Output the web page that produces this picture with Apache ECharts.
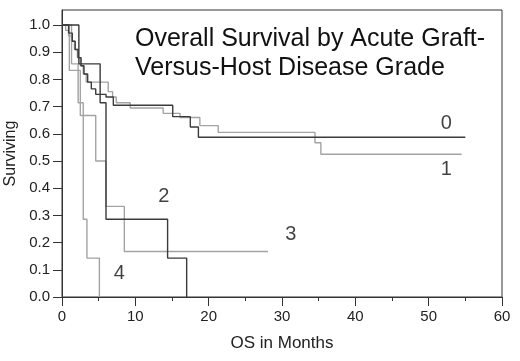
<!DOCTYPE html>
<html>
<head>
<meta charset="utf-8">
<script src="https://cdn.jsdelivr.net/npm/echarts@6/dist/echarts.min.js"></script>
<style>
  html, body { margin: 0; padding: 0; background: #fff; }
  #chart { width: 520px; height: 361px; }
</style>
</head>
<body>
<div id="chart"></div>
<script>
// Kaplan-Meier curves by aGVHD grade: [months, surviving]
const grade0 = [[0, 1], [0.9, 0.97], [1.4, 0.94], [1.8, 0.91], [2.2, 0.88], [2.6, 0.85], [3.0, 0.82],
  [3.5, 0.79], [4.0, 0.765], [4.6, 0.745], [6.0, 0.735], [7.0, 0.705], [15.1, 0.663],
  [17.5, 0.625], [18.6, 0.587], [55.0, 0.587]];
const grade1 = [[0, 1], [0.5, 0.98], [0.9, 0.96], [1.3, 0.94], [1.7, 0.91], [2.1, 0.88], [2.5, 0.85],
  [2.9, 0.82], [3.3, 0.79], [6.3, 0.755], [6.9, 0.735], [7.4, 0.714], [9.3, 0.695],
  [13.8, 0.675], [16.1, 0.66], [18.8, 0.63], [21.3, 0.605], [34.5, 0.567], [35.3, 0.525],
  [54.5, 0.525]];
const grade2 = [[0, 1], [2.3, 0.857], [5.2, 0.714], [6.0, 0.286], [14.4, 0.143], [17.0, 0]];
const grade3 = [[0, 1], [1.0, 0.833], [2.5, 0.667], [4.6, 0.5], [6.0, 0.333], [8.5, 0.167], [28.1, 0.167]];
const grade4 = [[0, 1], [1.3, 0.857], [2.2, 0.714], [2.9, 0.286], [3.4, 0.143], [5.1, 0]];

// curve labels placed in data units
const curveLabels = [[52.4, 0.636, "0"], [52.4, 0.47, "1"], [13.9, 0.37, "2"], [31.2, 0.228, "3"], [7.8, 0.087, "4"]];

const yTicks = [0, 0.1, 0.2, 0.3, 0.4, 0.5, 0.6, 0.7, 0.8, 0.9, 1.0];

const DARK = "#3a3a3a";
const LIGHT = "#a3a3a3";
const FONT = "Liberation Sans, Arial, sans-serif";

function kmSeries(name, data, color) {
  return {
    name: name,
    type: "line",
    step: "end",
    data: data,
    showSymbol: false,
    symbol: "none",
    lineStyle: { color: color, width: 1.4 },
    emphasis: { disabled: true },
    silent: true,
    animation: false
  };
}

const chart = echarts.init(document.getElementById("chart"), null, { renderer: "canvas" });

chart.setOption({
  animation: false,
  backgroundColor: "#fff",
  title: {
    text: "Overall Survival by Acute Graft-\nVersus-Host Disease Grade",
    left: 130,
    top: 20,
    textStyle: { fontFamily: FONT, fontSize: 25, fontWeight: "normal", color: "#111", lineHeight: 29 }
  },
  grid: {
    left: 62, right: 18, top: 10, bottom: 64,
    outerBoundsMode: "none",
    containLabel: false,
    show: true, borderColor: "#333", borderWidth: 1, backgroundColor: "transparent"
  },
  xAxis: {
    type: "value",
    min: 0, max: 60, interval: 10,
    name: "OS in Months",
    nameLocation: "middle",
    nameGap: 38,
    nameTextStyle: { fontFamily: FONT, fontSize: 17, color: "#222" },
    axisLine: { lineStyle: { color: "#333", width: 1 } },
    axisTick: { show: true, length: 9, lineStyle: { color: "#333" } },
    minorTick: { show: true, splitNumber: 2, length: 4, lineStyle: { color: "#333" } },
    axisLabel: { fontFamily: FONT, fontSize: 15, color: "#222", margin: 12 },
    splitLine: { show: false }
  },
  yAxis: {
    type: "value",
    min: 0, max: 1.055,
    name: "Surviving",
    nameLocation: "middle",
    nameGap: 42,
    nameTextStyle: { fontFamily: FONT, fontSize: 16, color: "#222" },
    axisLine: { show: true, lineStyle: { color: "#333", width: 1 } },
    axisTick: { show: true, length: 9, customValues: yTicks, lineStyle: { color: "#333" } },
    axisLabel: {
      fontFamily: FONT, fontSize: 15, color: "#222", margin: 12,
      customValues: yTicks,
      formatter: v => v.toFixed(1)
    },
    splitLine: { show: false }
  },
  series: [
    kmSeries("4", grade4, LIGHT),
    kmSeries("3", grade3, LIGHT),
    kmSeries("1", grade1, LIGHT),
    kmSeries("2", grade2, DARK),
    kmSeries("0", grade0, DARK),
    {
      name: "labels",
      type: "scatter",
      data: curveLabels,
      symbolSize: 0,
      silent: true,
      label: {
        show: true,
        position: "inside",
        formatter: p => p.value[2],
        fontFamily: FONT,
        fontSize: 20,
        color: "#111"
      }
    }
  ]
});
</script>
</body>
</html>
